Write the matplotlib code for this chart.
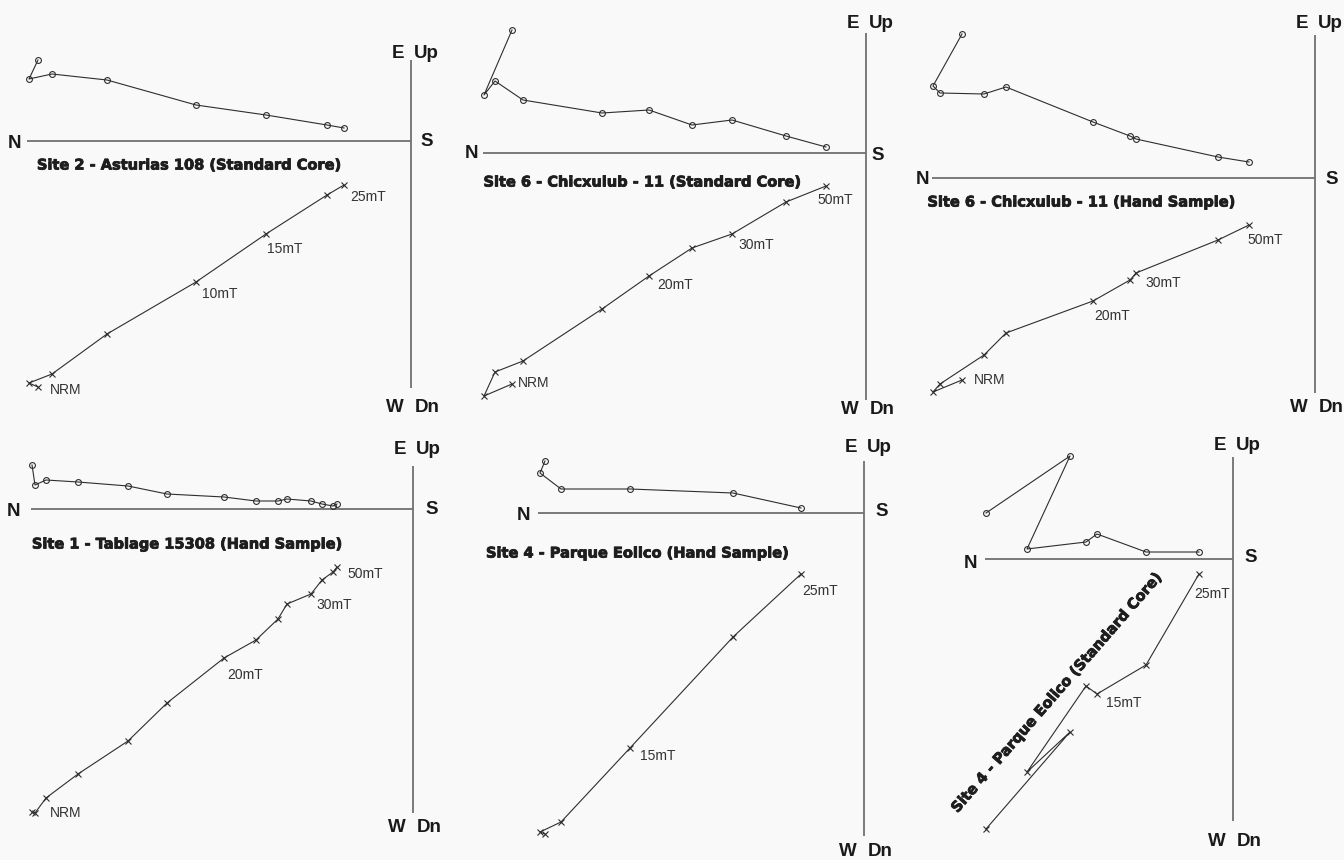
import matplotlib
matplotlib.use("Agg")
import matplotlib.pyplot as plt
import matplotlib.patheffects as pe

plt.rcParams['font.family'] = ['Liberation Sans', 'DejaVu Sans']

W, H = 1344, 860
BG = "#f9f9f9"
INK = "#2e2e2e"
AXC = "#707070"

# ---- demagnetisation data (arbitrary units): north, east (horizontal plane), up (vertical plane)
# Site 2 - Asturias 108 (Standard Core)
s2_north = [373, 382, 359, 304, 215, 145, 84, 67]
s2_east = [81, 62, 67, 61, 36, 26, 16, 13]
s2_up = [-246, -242, -233, -193, -141, -93, -54, -44]
s2_labels = [(0, "NRM", 12, 3), (4, "10mT", 6, 12), (5, "15mT", 1, 15), (7, "25mT", 6, 12)]

# Site 6 - Chicxulub - 11 (Standard Core)
s6c_north = [354, 382, 371, 343, 264, 217, 174, 134, 80, 40]
s6c_east = [123, 58, 72, 53, 40, 43, 28, 33, 17, 6]
s6c_up = [-231, -243, -219, -208, -156, -123, -95, -81, -49, -33]
s6c_labels = [(0, "NRM", 6, -1), (5, "20mT", 8, 9), (7, "30mT", 6, 11), (9, "50mT", -9, 14)]

# Site 6 - Chicxulub - 11 (Hand Sample)
s6h_north = [353, 382, 375, 331, 309, 222, 185, 179, 97, 66]
s6h_east = [144, 92, 85, 84, 91, 56, 42, 39, 21, 16]
s6h_up = [-202, -214, -206, -177, -155, -123, -102, -95, -62, -47]
s6h_labels = [(0, "NRM", 12, 0), (5, "20mT", 1, 15), (7, "30mT", 9, 10), (9, "50mT", -2, 15)]

# Site 1 - Tablage 15308 (Hand Sample)
s1_north = [381, 378, 367, 335, 285, 246, 189, 157, 135, 126, 102, 91, 80, 76]
s1_east = [44, 24, 29, 27, 23, 15, 12, 8, 8, 10, 8, 5, 3, 5]
s1_up = [-303, -304, -289, -265, -232, -194, -149, -131, -110, -95, -85, -71, -63, -58]
s1_labels = [(0, "NRM", 18, 1), (6, "20mT", 3, 17), (10, "30mT", 5, 11), (13, "50mT", 10, 7)]

# Site 4 - Parque Eolico (Hand Sample)
s4h_north = [319, 324, 303, 234, 131, 63]
s4h_east = [52, 40, 24, 24, 20, 5]
s4h_up = [-321, -319, -309, -235, -124, -61]
s4h_labels = [(3, "15mT", 10, 8), (5, "25mT", 1, 17)]

# Site 4 - Parque Eolico (Standard Core)
s4c_north = [247, 163, 206, 147, 136, 87, 34]
s4c_east = [46, 103, 10, 17, 25, 7, 7]
s4c_up = [-270, -173, -213, -127, -135, -106, -15]
s4c_labels = [(4, "15mT", 9, 9), (6, "25mT", -5, 20)]

# ---- layout in picture pixels (origin of each diagram, axis extents, label spots)
panels = [
    dict(north=s2_north, east=s2_east, up=s2_up, labels=s2_labels,
         title="Site 2 - Asturias 108 (Standard Core)", tpos=(190, 165), trot=0,
         origin=(411, 141), hlen=384, vtop=81, vbot=-247,
         npos=(15, 141), spos=(427, 139), upy=52, dny=405),
    dict(north=s6c_north, east=s6c_east, up=s6c_up, labels=s6c_labels,
         title="Site 6 - Chicxulub - 11 (Standard Core)", tpos=(643, 182), trot=0,
         origin=(866, 153), hlen=383, vtop=120, vbot=-247,
         npos=(472, 152), spos=(878, 153), upy=22, dny=408),
    dict(north=s6h_north, east=s6h_east, up=s6h_up, labels=s6h_labels,
         title="Site 6 - Chicxulub - 11 (Hand Sample)", tpos=(1082, 202), trot=0,
         origin=(1315, 178), hlen=383, vtop=143, vbot=-215,
         npos=(923, 177), spos=(1332, 178), upy=22, dny=405),
    dict(north=s1_north, east=s1_east, up=s1_up, labels=s1_labels,
         title="Site 1 - Tablage 15308 (Hand Sample)", tpos=(188, 544), trot=0,
         origin=(413, 509), hlen=382, vtop=43, vbot=-304,
         npos=(14, 510), spos=(432, 507), upy=448, dny=825),
    dict(north=s4h_north, east=s4h_east, up=s4h_up, labels=s4h_labels,
         title="Site 4 - Parque Eolico (Hand Sample)", tpos=(638, 553), trot=0,
         origin=(864, 513), hlen=326, vtop=52, vbot=-323,
         npos=(524, 513), spos=(882, 510), upy=445, dny=849),
    dict(north=s4c_north, east=s4c_east, up=s4c_up, labels=s4c_labels,
         title="Site 4 - Parque Eolico (Standard Core)", tpos=(1057, 692), trot=49,
         origin=(1233, 559), hlen=248, vtop=102, vbot=-262,
         npos=(971, 561), spos=(1251, 556), upy=443, dny=840),
]

fig = plt.figure(figsize=(W / 100, H / 100), dpi=100, facecolor=BG)

bold = dict(fontsize=13.5, fontweight='bold', color="#1a1a1a", va='center_baseline')

for p in panels:
    ox, oy = p["origin"]
    ax = fig.add_axes([0, 0, 1, 1])
    ax.set_xlim(-ox, W - ox)
    ax.set_ylim(oy - H, oy)
    ax.patch.set_alpha(0)
    ax.axis('off')

    def pt(x, y):
        # picture pixel -> panel coordinates
        return x - ox, oy - y

    # axes of the diagram
    ax.plot([-p["hlen"], 0], [0, 0], color=AXC, lw=1.3, solid_capstyle='butt')
    ax.plot([0, 0], [p["vbot"], p["vtop"]], color=AXC, lw=1.3, solid_capstyle='butt')

    x = [-n for n in p["north"]]
    ax.plot(x, p["east"], '-o', color=INK, lw=0.8, ms=4.2, mfc='none', mec=INK, mew=0.8)
    ax.plot(x, p["up"], '-x', color=INK, lw=0.8, ms=4.2, mew=0.8)

    for i, txt, dx, dy in p["labels"]:
        ax.text(x[i] + dx, p["up"][i] - dy, txt, fontsize=10, color="#333333",
                ha='left', va='center')

    # axis end labels
    ax.text(*pt(*p["npos"]), "N", ha='center', **bold)
    ax.text(*pt(*p["spos"]), "S", ha='center', **bold)
    ax.text(-7, oy - p["upy"], "E", ha='right', **bold)
    ax.text(3, oy - p["upy"], "Up", ha='left', **bold)
    ax.text(-7, oy - p["dny"], "W", ha='right', **bold)
    ax.text(4, oy - p["dny"], "Dn", ha='left', **bold)

    t = ax.text(*pt(*p["tpos"]), p["title"], fontsize=10.5, fontweight='bold',
                family='DejaVu Sans', color="#1e1e1e",
                ha='center', va='center', rotation=p["trot"], rotation_mode='anchor')
    t.set_path_effects([pe.withStroke(linewidth=0.6, foreground="#1e1e1e")])

fig.savefig("out.png", dpi=100, facecolor=BG)
